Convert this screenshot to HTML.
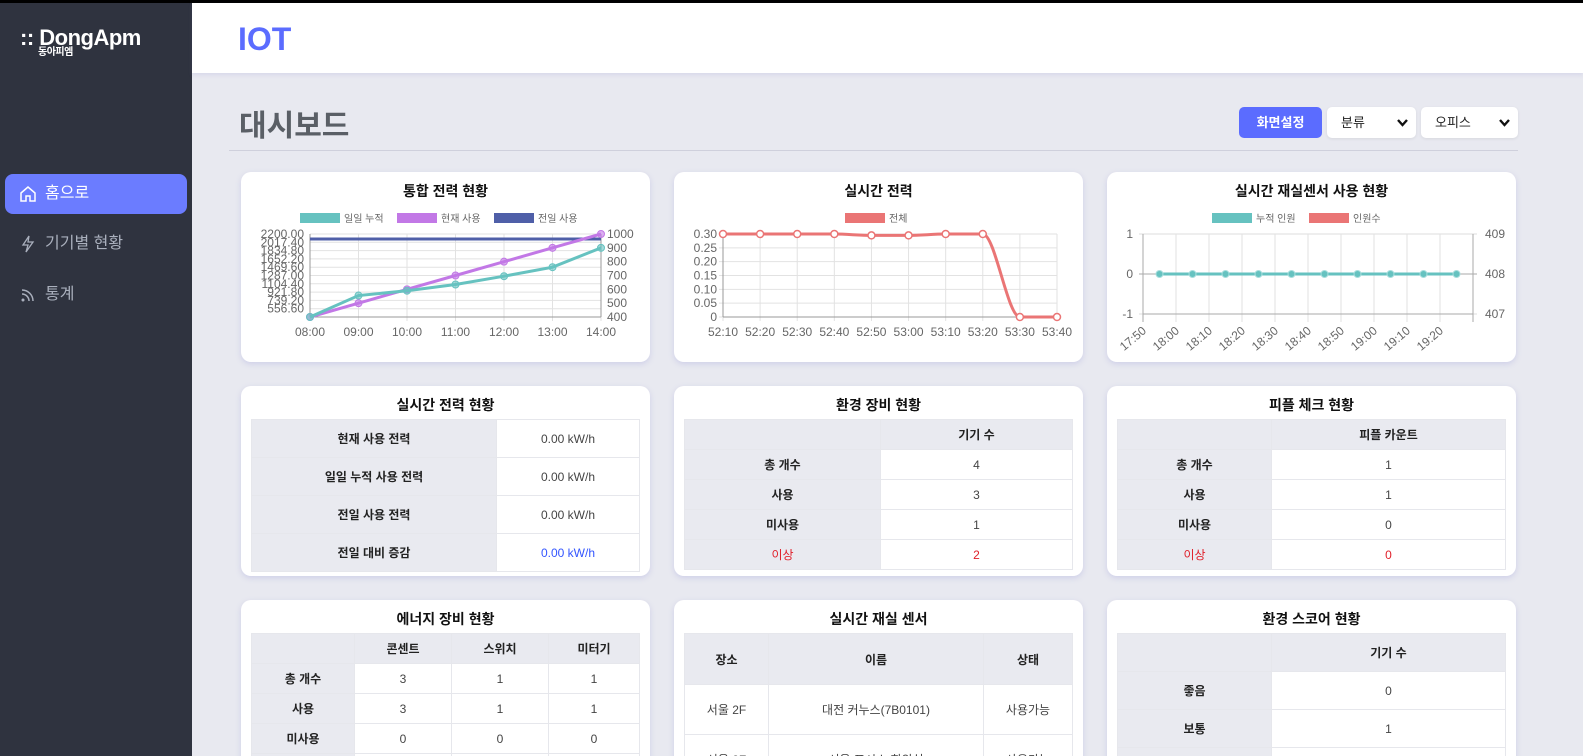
<!DOCTYPE html>
<html style="width:1583px;height:756px;overflow:hidden"><head><meta charset="utf-8">
<style>
*{box-sizing:border-box;margin:0;padding:0}
body{width:1583px;height:756px;overflow:hidden;background:#e8e9f0;font-family:"Liberation Sans","Noto Sans CJK KR",sans-serif;position:relative;color:#222}
#topbar{position:absolute;left:0;top:0;width:1583px;height:3px;background:#000}
#side{position:absolute;left:0;top:3px;width:192px;height:753px;background:#2f333f}
.logo{position:absolute;left:20px;top:22px;color:#fff;font-weight:bold;font-size:22px;letter-spacing:-0.5px}
.logo small{position:absolute;left:18px;top:18px;font-size:10px;font-weight:bold}
.nav{position:absolute;left:5px;width:182px;height:40px;color:#aab0bd;font-size:16px;line-height:40px;padding-left:40px;border-radius:8px}
.nav.on{background:#6b7cff;color:#fff}
.nav svg{position:absolute;left:14px;top:11px}
#header{position:absolute;left:192px;top:3px;width:1391px;height:70px;background:#fff;box-shadow:0 2px 4px rgba(120,120,200,.15)}
#header h1{position:absolute;left:46px;top:18px;font-size:32px;color:#5b6cff;font-weight:bold}
#title{position:absolute;left:239px;top:101px;font-size:30px;font-weight:bold;color:#5a5f66}
#divider{position:absolute;left:229px;top:150px;width:1289px;height:1px;background:#cfd0dc}
.btn{position:absolute;left:1239px;top:107px;width:83px;height:31px;background:#5b6cff;color:#fff;border-radius:5px;font-size:13px;font-weight:bold;text-align:center;line-height:31px}
.sel{position:absolute;top:107px;height:31px;background:#fff;border-radius:5px;font-size:13px;line-height:31px;padding-left:14px;box-shadow:0 1px 3px rgba(0,0,0,.08)}
.sel svg{position:absolute;right:8px;top:12px}
.card{position:absolute;width:409px;height:190px;background:#fff;border-radius:10px;box-shadow:0 2px 6px rgba(130,130,210,.25)}
.card h3{position:absolute;left:0;width:100%;top:9px;text-align:center;font-size:14px;font-weight:bold;color:#111}
table{position:absolute;left:10px;top:33px;width:389px;border-collapse:collapse;font-size:12px;table-layout:fixed}
td,th{border:1px solid #e6e7ec;text-align:center;color:#444}
th,td.l{background:#e9eaf0;font-weight:bold;color:#222}
.red{color:#e0202a!important}
.blue{color:#3355ff!important}
svg text{font-family:"Liberation Sans","Noto Sans CJK KR",sans-serif}
</style></head><body>
<div id="topbar"></div>
<div id="side">
 <div class="logo">:: DongApm<small>동아피엠</small></div>
 <div class="nav on" style="top:171px"><svg width="18" height="18" viewBox="0 0 18 18"><path d="M2 8 L9 2 L16 8 V16 H11 V11 H7 V16 H2 Z" fill="none" stroke="#fff" stroke-width="1.5"/></svg>홈으로</div>
 <div class="nav" style="top:221px"><svg width="18" height="18" viewBox="0 0 18 18"><path d="M10 1 L4 10 H9 L7 17 L14 7 H9 Z" fill="none" stroke="#aab0bd" stroke-width="1.3"/></svg>기기별 현황</div>
 <div class="nav" style="top:272px"><svg width="18" height="18" viewBox="0 0 18 18"><path d="M3 4 A11 11 0 0 1 14 15 M3 8 A7 7 0 0 1 10 15" fill="none" stroke="#aab0bd" stroke-width="1.5"/><circle cx="4" cy="14" r="1.5" fill="#aab0bd"/></svg>통계</div>
</div>
<div id="header"><h1>IOT</h1></div>
<div id="title">대시보드</div>
<div class="btn">화면설정</div>
<div class="sel" style="left:1327px;width:89px">분류<svg width="11" height="8" viewBox="0 0 11 8"><path d="M1 1 L5.5 6 L10 1" fill="none" stroke="#111" stroke-width="2.4"/></svg></div>
<div class="sel" style="left:1421px;width:97px">오피스<svg width="11" height="8" viewBox="0 0 11 8"><path d="M1 1 L5.5 6 L10 1" fill="none" stroke="#111" stroke-width="2.4"/></svg></div>
<div id="divider"></div>

<div class="card" style="left:241px;top:172px"><h3>통합 전력 현황</h3></div>
<div class="card" style="left:674px;top:172px"><h3>실시간 전력</h3></div>
<div class="card" style="left:1107px;top:172px"><h3>실시간 재실센서 사용 현황</h3></div>

<div class="card" style="left:241px;top:386px"><h3>실시간 전력 현황</h3>
<table><colgroup><col style="width:245px"><col></colgroup>
<tr style="height:38px"><td class="l">현재 사용 전력</td><td>0.00 kW/h</td></tr>
<tr style="height:38px"><td class="l">일일 누적 사용 전력</td><td>0.00 kW/h</td></tr>
<tr style="height:38px"><td class="l">전일 사용 전력</td><td>0.00 kW/h</td></tr>
<tr style="height:38px"><td class="l">전일 대비 증감</td><td class="blue">0.00 kW/h</td></tr>
</table></div>

<div class="card" style="left:674px;top:386px"><h3>환경 장비 현황</h3>
<table><colgroup><col style="width:196px"><col></colgroup>
<tr style="height:30px"><th></th><th>기기 수</th></tr>
<tr style="height:30px"><td class="l">총 개수</td><td>4</td></tr>
<tr style="height:30px"><td class="l">사용</td><td>3</td></tr>
<tr style="height:30px"><td class="l">미사용</td><td>1</td></tr>
<tr style="height:30px"><td class="l red" style="font-weight:normal">이상</td><td class="red">2</td></tr>
</table></div>

<div class="card" style="left:1107px;top:386px"><h3>피플 체크 현황</h3>
<table><colgroup><col style="width:154px"><col></colgroup>
<tr style="height:30px"><th></th><th>피플 카운트</th></tr>
<tr style="height:30px"><td class="l">총 개수</td><td>1</td></tr>
<tr style="height:30px"><td class="l">사용</td><td>1</td></tr>
<tr style="height:30px"><td class="l">미사용</td><td>0</td></tr>
<tr style="height:30px"><td class="l red" style="font-weight:normal">이상</td><td class="red">0</td></tr>
</table></div>

<div class="card" style="left:241px;top:600px"><h3>에너지 장비 현황</h3>
<table><colgroup><col style="width:103px"><col style="width:97px"><col style="width:97px"><col></colgroup>
<tr style="height:30px"><th></th><th>콘센트</th><th>스위치</th><th>미터기</th></tr>
<tr style="height:30px"><td class="l">총 개수</td><td>3</td><td>1</td><td>1</td></tr>
<tr style="height:30px"><td class="l">사용</td><td>3</td><td>1</td><td>1</td></tr>
<tr style="height:30px"><td class="l">미사용</td><td>0</td><td>0</td><td>0</td></tr>
<tr style="height:30px"><td class="l">이상</td><td>0</td><td>0</td><td>0</td></tr>
</table></div>

<div class="card" style="left:674px;top:600px"><h3>실시간 재실 센서</h3>
<table><colgroup><col style="width:84px"><col style="width:215px"><col></colgroup>
<tr style="height:51px"><th>장소</th><th>이름</th><th>상태</th></tr>
<tr style="height:50px"><td>서울 2F</td><td>대전 커누스(7B0101)</td><td>사용가능</td></tr>
<tr style="height:50px"><td>서울 2F</td><td>서울 포시스 회의실</td><td>사용가능</td></tr>
</table></div>

<div class="card" style="left:1107px;top:600px"><h3>환경 스코어 현황</h3>
<table><colgroup><col style="width:154px"><col></colgroup>
<tr style="height:38px"><th></th><th>기기 수</th></tr>
<tr style="height:38px"><td class="l">좋음</td><td>0</td></tr>
<tr style="height:38px"><td class="l">보통</td><td>1</td></tr>
<tr style="height:38px"><td class="l">나쁨</td><td>0</td></tr>
</table></div>

<svg id="charts" width="1583" height="756" style="position:absolute;left:0;top:0;pointer-events:none"></svg>

<script>
// Chart 1 data
const c1Labels=["08:00","09:00","10:00","11:00","12:00","13:00","14:00"];
const c1Daily=[400,555,590,635,695,760,900];
const c1Current=[400,500,600,700,800,900,1000];
const c1Prev=[2090,2090,2090,2090,2090,2090,2090];
const c1LeftTicks=["2200.00","2017.40","1834.80","1652.20","1469.60","1287.00","1104.40","921.80","739.20","556.60"];
const c1RightTicks=[400,500,600,700,800,900,1000];
// Chart 2 data
const c2Labels=["52:10","52:20","52:30","52:40","52:50","53:00","53:10","53:20","53:30","53:40"];
const c2Total=[0.30,0.30,0.30,0.30,0.295,0.295,0.30,0.30,0,0];
const c2Ticks=[0,0.05,0.10,0.15,0.20,0.25,0.30];
// Chart 3 data
const c3Labels=["17:50","18:00","18:10","18:20","18:30","18:40","18:50","19:00","19:10","19:20"];
const c3Cumulative=[0,0,0,0,0,0,0,0,0,0];
const c3Ticks=[-1,0,1];
const c3RightTicks=[407,408,409];

const S=document.getElementById('charts');
const NS='http://www.w3.org/2000/svg';
function mk(tag,attrs,parent){const e=document.createElementNS(NS,tag);for(const k in attrs)e.setAttribute(k,attrs[k]);(parent||S).appendChild(e);return e;}
function txt(x,y,s,anchor,size,parent,rot){const t=mk('text',{x:x,y:y,'text-anchor':anchor,'font-size':size||12,fill:'#666'},parent);if(rot)t.setAttribute('transform','rotate('+rot+' '+x+' '+y+')');t.textContent=s;return t;}
function monotone(pts){const n=pts.length;const d=[],m=[];for(let i=0;i<n-1;i++)d.push((pts[i+1][1]-pts[i][1])/(pts[i+1][0]-pts[i][0]));
 for(let i=0;i<n;i++){if(i===0)m.push(d[0]);else if(i===n-1)m.push(d[n-2]);else if(d[i-1]*d[i]<=0)m.push(0);else m.push((d[i-1]+d[i])/2);}
 let s='M'+pts[0][0]+' '+pts[0][1];for(let i=0;i<n-1;i++){const h=(pts[i+1][0]-pts[i][0])/3;s+=' C'+(pts[i][0]+h)+' '+(pts[i][1]+m[i]*h)+' '+(pts[i+1][0]-h)+' '+(pts[i+1][1]-m[i+1]*h)+' '+pts[i+1][0]+' '+pts[i+1][1];}return s;}
function legend(g,items,cx,y){let w=0;items.forEach(it=>w+=42+it[0].length*9+10);let x=cx-w/2;items.forEach(it=>{const r=mk('rect',{x:x,y:y-5,width:40,height:10,fill:it[1]},g);const t=txt(x+44,y+4,it[0],'start',10,g);x+=42+it[0].length*9+10;});}

// ---- Chart 1
(function(){
 const g=mk('g',{});
 const x0=310,x1=601,yT=234,yB=317;
 const X=i=>x0+(x1-x0)*i/(c1Labels.length-1);
 const YR=v=>yB-(v-400)/600*(yB-yT);
 const YL=v=>yB-(v-374)/1826*(yB-yT);
 legend(g,[["일일 누적","#66c2c0"],["현재 사용","#c278e6"],["전일 사용","#4f5fa8"]],x0+(x1-x0)/2-10,218);
 for(let i=0;i<=10;i++){const y=yT+(yB-yT)*i/10;mk('line',{x1:x0,x2:x1,y1:y,y2:y,stroke:'#e2e2e2'},g);}
 c1Labels.forEach((l,i)=>{mk('line',{x1:X(i),x2:X(i),y1:yT,y2:yB+4,stroke:'#e2e2e2'},g);const t=txt(X(i),yB+19,l,'middle',12,g);});
 mk('line',{x1:x0,x2:x0,y1:yT,y2:yB,stroke:'#999'},g);mk('line',{x1:x1,x2:x1,y1:yT,y2:yB,stroke:'#999'},g);mk('line',{x1:x0,x2:x1,y1:yB,y2:yB,stroke:'#999'},g);
 c1LeftTicks.forEach((l,i)=>{const v=2200-182.6*i;const t=txt(x0-6,YL(v)+4,l,'end',12,g);});
 c1RightTicks.forEach(v=>{const t=txt(x1+6,YR(v)+4,v,'start',12,g);});
 const prev=mk('path',{d:'M'+c1Prev.map((v,i)=>X(i)+' '+YL(v)).join(' L'),stroke:'#4f5fa8','stroke-width':3,fill:'none'},g);
 [[c1Current,'#c278e6','series-current-usage'],[c1Daily,'#66c2c0','series-daily-cumulative']].forEach(s=>{
  const p=mk('path',{d:'M'+s[0].map((v,i)=>X(i)+' '+YR(v)).join(' L'),stroke:s[1],'stroke-width':3,fill:'none'},g);
  s[0].forEach((v,i)=>{const c=mk('circle',{cx:X(i),cy:YR(v),r:3.5,fill:s[1],stroke:s[1],'fill-opacity':.6},g);});
 });
})();

// ---- Chart 2
(function(){
 const g=mk('g',{});
 const x0=723,x1=1057,yT=234,yB=317;
 const X=i=>x0+(x1-x0)*i/(c2Labels.length-1);
 const Y=v=>yB-v/0.30*(yB-yT);
 legend(g,[["전체","#ea7575"]],x0+(x1-x0)/2-10,218);
 c2Ticks.forEach(v=>{mk('line',{x1:x0-4,x2:x1,y1:Y(v),y2:Y(v),stroke:'#e2e2e2'},g);const t=txt(x0-6,Y(v)+4,v===0?'0':v.toFixed(2),'end',12,g);});
 c2Labels.forEach((l,i)=>{mk('line',{x1:X(i),x2:X(i),y1:yT,y2:yB+4,stroke:'#e2e2e2'},g);const t=txt(X(i),yB+19,l,'middle',12,g);});
 mk('line',{x1:x0,x2:x0,y1:yT,y2:yB,stroke:'#999'},g);mk('line',{x1:x0,x2:x1,y1:yB,y2:yB,stroke:'#999'},g);
 const pts=c2Total.map((v,i)=>[X(i),Y(v)]);
 const p=mk('path',{d:monotone(pts),stroke:'#ea7575','stroke-width':3,fill:'none'},g);
 pts.forEach(q=>{const c=mk('circle',{cx:q[0],cy:q[1],r:3.5,fill:'#fff',stroke:'#ea7575','stroke-width':1.5},g);});
})();

// ---- Chart 3
(function(){
 const g=mk('g',{});
 const x0=1143,x1=1473,yT=234,yB=314;const n=c3Labels.length;const bw=(x1-x0)/n;
 const X=i=>x0+bw*(i+0.5);
 const Y=v=>yB-(v+1)/2*(yB-yT);
 legend(g,[["누적 인원","#66c2c0"],["인원수","#ea7575"]],x0+(x1-x0)/2-8,218);
 c3Ticks.forEach(v=>{mk('line',{x1:x0-4,x2:x1+4,y1:Y(v),y2:Y(v),stroke:v===0?'#aaa':'#ddd'},g);const t=txt(x0-10,Y(v)+4,v,'end',12,g);});
 c3RightTicks.forEach(v=>{const y=yB-(v-407)/2*(yB-yT);const t=txt(x1+12,y+4,v,'start',12,g);});
 for(let i=0;i<=n;i++){const x=x0+bw*i;mk('line',{x1:x,x2:x,y1:yT,y2:yB+8,stroke:i==0||i==n?'#aaa':'#e2e2e2'},g);}
 c3Labels.forEach((l,i)=>{const t=txt(x0+bw*i+4,yB+18,l,'end',12,g,-40);});
 mk('line',{x1:x0,x2:x1,y1:yB,y2:yB,stroke:'#aaa'},g);
 const p=mk('path',{d:'M'+c3Cumulative.map((v,i)=>X(i)+' '+Y(v)).join(' L'),stroke:'#66c2c0','stroke-width':3,fill:'none'},g);
 c3Cumulative.forEach((v,i)=>{const c=mk('circle',{cx:X(i),cy:Y(v),r:3.5,fill:'#66c2c0',stroke:'#a8dedd','stroke-width':1},g);});
})();
</script>
</body></html>
